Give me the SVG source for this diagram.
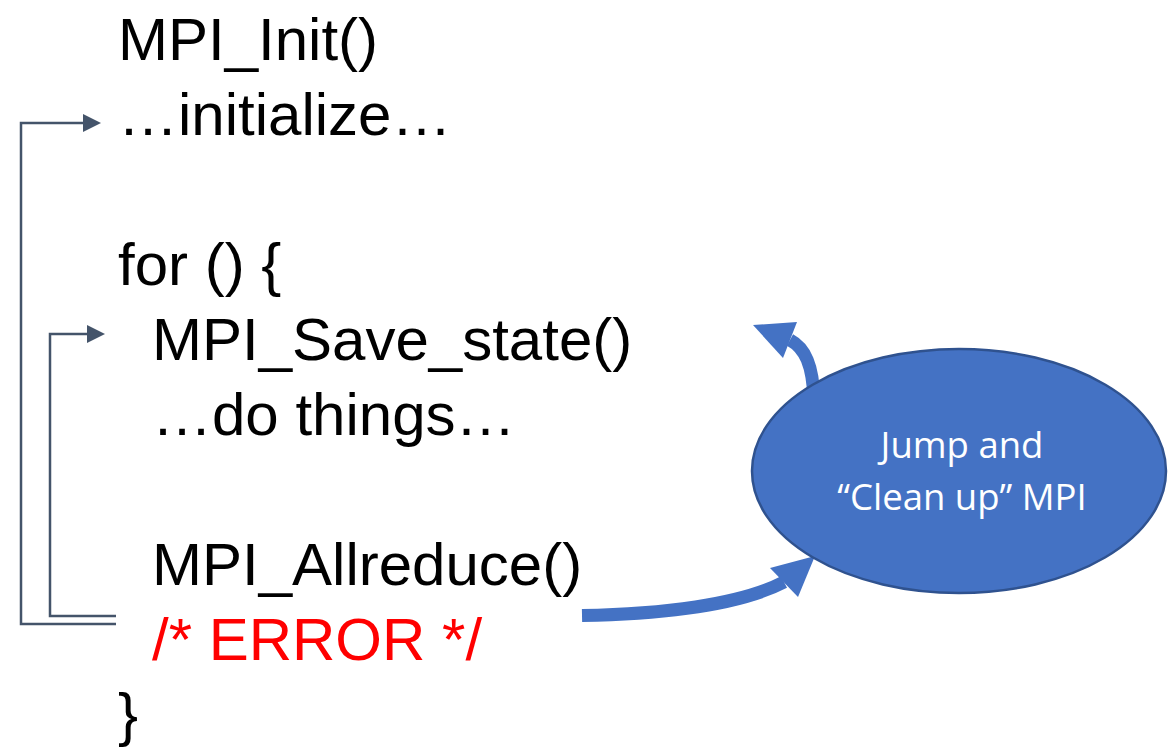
<svg xmlns="http://www.w3.org/2000/svg" width="1169" height="749" viewBox="0 0 1169 749">
  <style>
    .code { font-family: "Liberation Sans", Arial, sans-serif; font-size: 60px; fill: #000000; }
    .err { fill: #FF0000; }
    .flow { fill: none; stroke: #44546A; stroke-width: 2.5; }
    .jump { fill: none; stroke: #4472C4; stroke-width: 13; }
    .jumphead { fill: #4472C4; }
    .bubble { fill: #4472C4; stroke: #2F528F; stroke-width: 2.5; }
    .bubble-text { font-family: "Open Sans", "Liberation Sans", sans-serif; font-size: 36.5px; fill: #FFFFFF; text-anchor: middle; }
  </style>
  <defs>
    <marker id="flowHead" markerUnits="userSpaceOnUse" markerWidth="18" markerHeight="18" refX="0" refY="9" orient="auto">
      <path d="M0,0 L18,9 L0,18 z" fill="#44546A"/>
    </marker>
  </defs>

  <!-- program listing -->
  <g id="listing">
    <text class="code" x="118" y="60">MPI_Init()</text>
    <text class="code" x="118" y="135">…initialize…</text>
    <text class="code" x="118" y="285">for () {</text>
    <text class="code" x="152" y="360">MPI_Save_state()</text>
    <text class="code" x="152" y="435">…do things…</text>
    <text class="code" x="152" y="585">MPI_Allreduce()</text>
    <text class="code err" x="152" y="660">/* ERROR */</text>
    <text class="code" x="118" y="735">}</text>
  </g>

  <!-- control-flow connectors -->
  <g id="connectors">
    <path class="flow" d="M116,624 H21 V123 H83" marker-end="url(#flowHead)"/>
    <path class="flow" d="M116,616 H50 V334 H87" marker-end="url(#flowHead)"/>
    <path class="jump" d="M582,615.5 C660,614 740,605 784,582"/>
    <polygon class="jumphead" points="770,568 815,556 798,597"/>
    <path class="jump" d="M814,400 C813,365 805,348 790,340"/>
    <polygon class="jumphead" points="753,325 797,322 783,358"/>
  </g>

  <!-- recovery step -->
  <g id="cleanup">
    <ellipse class="bubble" cx="959" cy="471" rx="207" ry="122"/>
    <text class="bubble-text" x="962" y="458">Jump and</text>
    <text class="bubble-text" x="962" y="510">“Clean up” MPI</text>
  </g>
</svg>
